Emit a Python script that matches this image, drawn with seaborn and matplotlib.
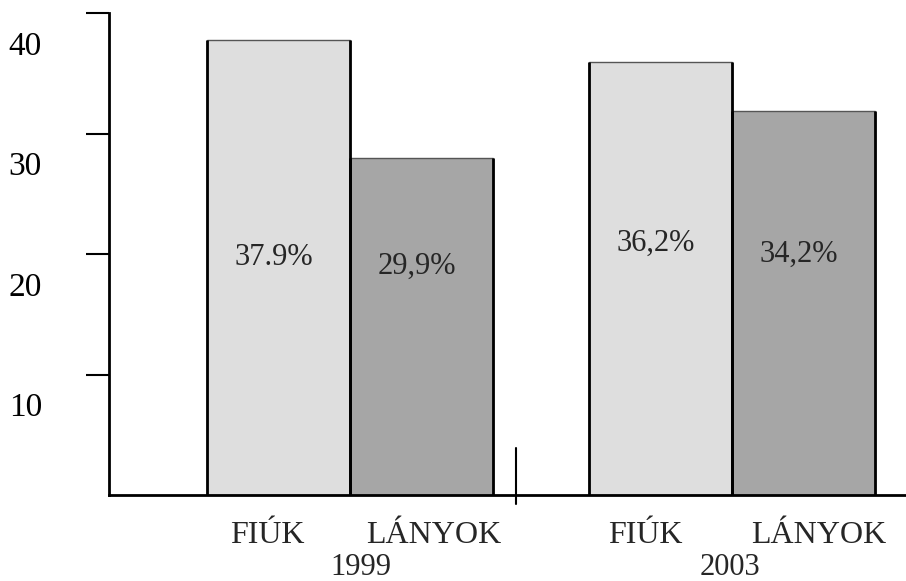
import matplotlib
matplotlib.use("Agg")
import matplotlib.pyplot as plt
import matplotlib.transforms as mtransforms
import pandas as pd
import seaborn as sns

# data
years = ["1999", "1999", "2003", "2003"]
groups = ["FIÚK", "LÁNYOK", "FIÚK", "LÁNYOK"]
bar_heights = [37.8, 28.0, 35.9, 31.9]
bar_labels = ["37.9%", "29,9%", "36,2%", "34,2%"]
y_ticks = [10, 20, 30, 40]

# where each bar label sits (baseline, in axis units)
label_y = [19.1, 18.35, 20.3, 19.35]

df = pd.DataFrame({"year": years, "group": groups, "value": bar_heights})

sns.set_style("white")
plt.rcParams["font.family"] = ["Liberation Serif", "DejaVu Serif"]

fig = plt.figure(figsize=(9.06, 5.81), dpi=100)
ax = fig.add_axes([109 / 906, 1 - 495 / 581, 1 - 109 / 906, (495 - 13) / 581])

sns.barplot(data=df, x="year", y="value", hue="group",
            hue_order=["FIÚK", "LÁNYOK"],
            palette={"FIÚK": "#dedede", "LÁNYOK": "#a6a6a6"},
            saturation=1, width=0.75, edgecolor="#555555", linewidth=1,
            legend=False, ax=ax)

ax.set_xlim(-0.631, 1.455)
ax.set_ylim(0, 40)

# thick black sides on the bars
patches = sorted([p for p in ax.patches if p.get_height() > 0], key=lambda p: p.get_x())
for p in patches:
    for xe in (p.get_x(), p.get_x() + p.get_width()):
        ax.plot([xe, xe], [0, p.get_height()], color="black", lw=2, solid_capstyle="butt")

# value labels inside the bars
for p, txt, ly in zip(patches, bar_labels, label_y):
    ax.annotate(txt, xy=(p.get_x() + p.get_width() / 2, ly), xytext=(-3.5, 0),
                textcoords="offset points", ha="center", va="baseline", fontsize=22)

# category labels under the bars
cat_dx = [-8, 9, -11, 11]
for p, g, dx in zip(patches, groups, cat_dx):
    ax.annotate(g, xy=(p.get_x() + p.get_width() / 2, 0), xytext=(dx, -34.5),
                textcoords="offset points", ha="center", va="baseline",
                fontsize=23, annotation_clip=False)

# year labels
year_dx = [8, -1.5]
for i, (yr, dx) in enumerate(zip(["1999", "2003"], year_dx)):
    ax.annotate(yr, xy=(i, 0), xytext=(dx, -57.5), textcoords="offset points",
                ha="center", va="baseline", fontsize=22, annotation_clip=False)

# small separator between the two years
trans = mtransforms.blended_transform_factory(ax.transData, ax.transAxes)
ax.plot([0.435, 0.435], [-0.019, 0.0975], color="black", lw=1.5,
        transform=trans, clip_on=False)

# axes look
sns.despine(ax=ax, top=True, right=True)
for side in ("left", "bottom"):
    ax.spines[side].set_linewidth(2)
    ax.spines[side].set_color("black")
ax.set_xticks([])
ax.set_yticks(y_ticks)
ax.set_yticklabels([str(t) for t in y_ticks])
ax.tick_params(axis="y", direction="out", length=16.5, width=1.5, pad=31.7,
               labelsize=24, left=True, colors="black")
shift = mtransforms.ScaledTranslation(0, -0.30, fig.dpi_scale_trans)
for lab in ax.get_yticklabels():
    lab.set_transform(lab.get_transform() + shift)
ax.set_xlabel("")
ax.set_ylabel("")

fig.savefig("out.png", dpi=100)
